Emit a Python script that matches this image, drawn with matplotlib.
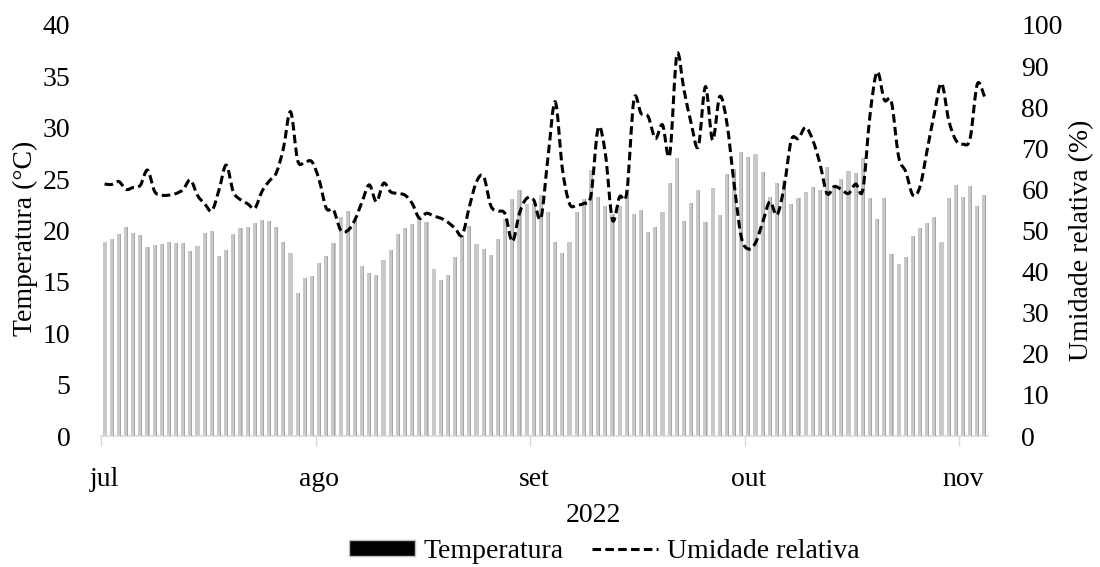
import numpy as np
import matplotlib
matplotlib.use("Agg")
import matplotlib.pyplot as plt
from matplotlib.path import Path
from matplotlib.patches import PathPatch, Patch
from matplotlib.lines import Line2D

plt.rcParams['font.family'] = ['Liberation Serif', 'DejaVu Serif']

# daily values, 1 jul 2022 onwards (124 days)
temperatura = [
    18.9, 19.2, 19.7, 20.3, 19.8, 19.6, 18.4, 18.6, 18.7, 18.9,
    18.8, 18.8, 18.0, 18.5, 19.8, 20.0, 17.5, 18.1, 19.7, 20.2,
    20.3, 20.7, 21.0, 20.9, 20.3, 18.9, 17.8, 13.9, 15.4, 15.6,
    16.8, 17.5, 18.8, 21.3, 21.9, 21.0, 16.5, 15.9, 15.7, 17.1,
    18.1, 19.7, 20.2, 20.6, 21.2, 20.8, 16.3, 15.2, 15.7, 17.4,
    19.6, 20.4, 18.7, 18.2, 17.6, 19.2, 21.1, 23.1, 23.9, 22.6,
    22.7, 23.5, 21.8, 18.9, 17.8, 18.9, 21.8, 23.1, 25.9, 23.3,
    22.4, 21.6, 22.4, 24.0, 21.6, 22.0, 19.9, 20.3, 21.8, 24.6,
    27.1, 20.9, 22.7, 23.9, 20.8, 24.1, 21.5, 25.5, 26.0, 27.6,
    27.2, 27.4, 25.7, 23.3, 24.6, 24.9, 22.6, 23.2, 23.7, 24.2,
    23.9, 26.2, 24.3, 25.0, 25.8, 25.6, 27.1, 23.2, 21.1, 23.2,
    17.7, 16.7, 17.4, 19.5, 20.2, 20.7, 21.3, 18.9, 23.2, 24.4,
    23.3, 24.3, 22.4, 23.5,
]
umidade = [
    61.3, 61.2, 61.9, 60.0, 60.5, 61.0, 64.7, 59.5, 58.6, 58.6,
    59.0, 60.0, 62.3, 58.5, 56.5, 54.8, 59.9, 65.9, 59.4, 57.5,
    56.5, 55.4, 59.5, 62.0, 64.0, 70.0, 78.9, 67.0, 66.7, 66.7,
    62.3, 55.4, 55.0, 50.1, 50.0, 52.6, 57.0, 61.1, 57.0, 61.5,
    59.4, 59.0, 58.6, 56.6, 53.0, 54.2, 53.5, 53.0, 52.0, 50.5,
    48.9, 55.8, 61.9, 63.1, 56.0, 54.8, 54.0, 47.3, 54.2, 57.8,
    57.4, 53.0, 68.0, 81.3, 65.0, 56.5, 56.2, 56.6, 58.6, 74.9,
    68.8, 52.6, 58.2, 59.2, 81.8, 78.5, 77.7, 72.4, 75.7, 68.4,
    92.7, 84.2, 76.1, 70.4, 85.0, 72.0, 82.6, 76.1, 61.5, 48.5,
    45.5, 47.0, 52.0, 57.0, 53.8, 60.7, 72.0, 72.4, 75.1, 72.0,
    66.3, 59.0, 60.7, 60.0, 59.0, 61.3, 59.9, 78.0, 88.6, 81.8,
    81.3, 68.0, 64.3, 58.6, 60.7, 69.6, 78.5, 85.8, 76.9, 72.0,
    71.0, 72.4, 85.6, 82.6,
]
meses = ['jul', 'ago', 'set', 'out', 'nov']
inicio_mes = [0, 30, 60, 90, 120]

dias = np.arange(len(temperatura))


def smooth_path(xs, ys):
    # excel-like smoothed line (catmull-rom through every point)
    pts = np.column_stack([xs, ys]).astype(float)
    n = len(pts)
    verts = [pts[0]]
    codes = [Path.MOVETO]
    for i in range(n - 1):
        p0 = pts[i - 1] if i > 0 else pts[i]
        p1 = pts[i]
        p2 = pts[i + 1]
        p3 = pts[i + 2] if i + 2 < n else pts[i + 1]
        verts += [p1 + (p2 - p0) / 6, p2 - (p3 - p1) / 6, p2]
        codes += [Path.CURVE4] * 3
    return Path(verts, codes)


fig = plt.figure(figsize=(11, 5.67), dpi=100)
ax = fig.add_axes([101 / 1100, 1 - 436 / 567, 887 / 1100, 411 / 567])

ax.bar(dias, temperatura, width=0.58, color='#c8c8c8', linewidth=0, zorder=2)
ax.bar(dias + 0.2, temperatura, width=0.12, color='#a6a6a6', linewidth=0, zorder=3)

ax.set_xlim(-0.5, len(dias) - 0.5)
ax.set_ylim(0, 40)
ax.set_yticks(range(0, 41, 5))
ax.set_xticks(inicio_mes)
ax.set_xticklabels(meses)
ax.set_xticks([i - 0.5 for i in inicio_mes], minor=True)
ax.tick_params(axis='x', which='major', length=0, pad=22, labelsize=20)
ax.tick_params(axis='x', which='minor', length=7, width=1, color='#d9d9d9')
ax.tick_params(axis='y', length=0, pad=22, labelsize=20)
for s in ['top', 'left', 'right']:
    ax.spines[s].set_visible(False)
ax.spines['bottom'].set_color('#d9d9d9')
ax.spines['bottom'].set_linewidth(1.2)

ax2 = ax.twinx()
ax2.set_ylim(0, 100)
ax2.set_yticks(range(0, 101, 10))
ax2.tick_params(axis='y', length=0, pad=24, labelsize=20)
for s in ['top', 'left', 'right', 'bottom']:
    ax2.spines[s].set_visible(False)

linha = PathPatch(smooth_path(dias, umidade), fill=False, edgecolor='black',
                  linewidth=2.2, linestyle=(0, (2.8, 1.4)), capstyle='butt')
ax2.add_patch(linha)

fig.text(25 / 1100, 1 - 238 / 567, 'Temperatura (°C)', rotation=90,
         ha='center', va='center', fontsize=20)
fig.text(1082 / 1100, 1 - 240 / 567, 'Umidade relativa (%)', rotation=90,
         ha='center', va='center', fontsize=20)
fig.text(593 / 1100, 1 - 516 / 567, '2022', ha='center', va='center', fontsize=20)

handles = [Patch(facecolor='black', edgecolor='#bfbfbf', linewidth=1),
           Line2D([], [], color='black', linewidth=2.2, linestyle=(0, (2.8, 1.4)))]
fig.legend(handles, ['Temperatura', 'Umidade relativa'], loc='center',
           bbox_to_anchor=(604 / 1100, 1 - 551 / 567), ncol=2, frameon=False,
           fontsize=20, handlelength=2.4, handleheight=0.5, handletextpad=0.3,
           columnspacing=1.0, borderpad=0)

fig.savefig('out.png', dpi=100)
plt.close(fig)
